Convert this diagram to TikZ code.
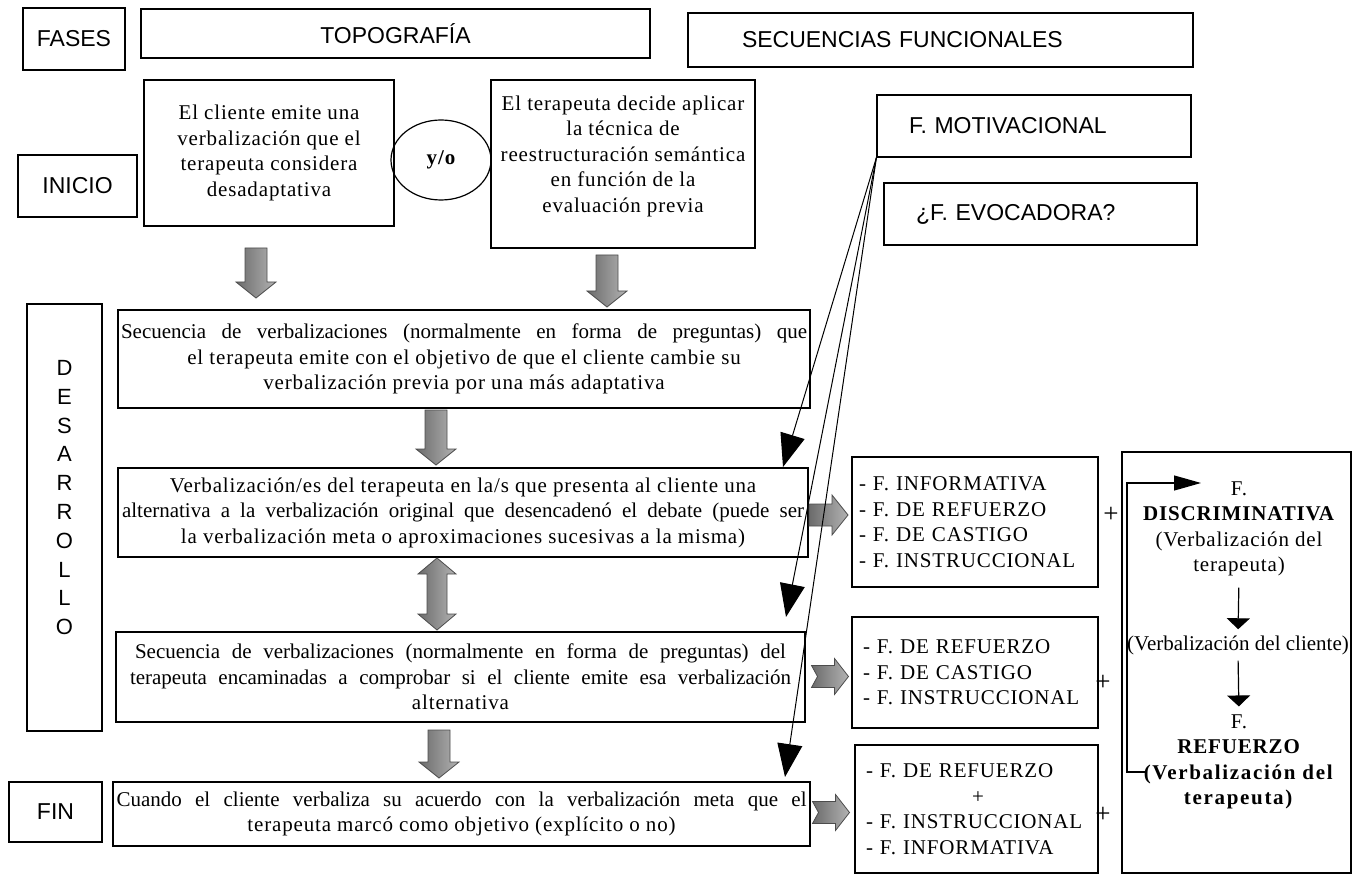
\documentclass[tikz,border=0pt]{standalone}
\usepackage{fontspec}
\setmainfont{Liberation Serif}[LetterSpace=4]
\newfontfamily\hdfont{Liberation Sans}
\usetikzlibrary{shapes.geometric,arrows.meta}

\newcommand{\txtsize}{\fontsize{21}{25.5}\selectfont}
\newcommand{\hdsize}{\fontsize{23}{26}\selectfont}
\newcommand{\spreadline}[2]{\makebox[#1][s]{\addfontfeature{LetterSpace=0}#2}}

\tikzset{
  hbox/.style={draw, line width=1.2pt, inner sep=0pt, font=\hdfont\hdsize},
  tbox/.style={draw, line width=1.2pt, inner sep=0pt, align=center, font=\txtsize},
  fbox/.style={draw, line width=1.2pt, inner ysep=0pt, inner xsep=7pt, align=left, text width=232pt, font=\txtsize},
  ttext/.style={inner sep=0pt, align=center, font=\txtsize},
  plus/.style={inner sep=0pt, font=\fontsize{27}{27}\selectfont},
  motarrow/.style={line width=1pt, -{Triangle[length=33pt,width=25pt]}},
  arrowfill/.style={draw=black!70, line width=0.8pt, left color=black!58, right color=black!30},
  blockarrow/.pic={\path[arrowfill] ({-#1/2},-11) -- ({#1/2-16},-11) -- ({#1/2-16},-20) -- ({#1/2},0) -- ({#1/2-16},20) -- ({#1/2-16},11) -- ({-#1/2},11) -- cycle;},
  dblarrow/.pic={\path[arrowfill] ({-#1/2},0) -- ({-#1/2+16},-19) -- ({-#1/2+16},-10) -- ({#1/2-16},-10) -- ({#1/2-16},-19) -- ({#1/2},0) -- ({#1/2-16},19) -- ({#1/2-16},10) -- ({-#1/2+16},10) -- ({-#1/2+16},19) -- cycle;},
  notcharrow/.pic={\path[arrowfill] (-18,-11) -- (5,-11) -- (5,-18) -- (19,0) -- (5,18) -- (5,11) -- (-18,11) -- (-12,0) -- cycle;}
}

\begin{document}
\begin{tikzpicture}[x=1pt,y=-1pt]
  \useasboundingbox (0,0) rectangle (1356,874);
  % headings
  \node[hbox, minimum width=102pt, minimum height=62pt] (fases) at (74,39) {FASES};
  \node[hbox, minimum width=509pt, minimum height=49pt] (topo) at (395.5,33.5) {TOPOGRAFÍA};
  \node[hbox, minimum height=54pt, text width=397pt, inner xsep=54pt, align=left] (secf) at (940.5,40) {SECUENCIAS FUNCIONALES};

  % phases
  \node[hbox, minimum width=119pt, minimum height=62pt] (inicio) at (77.5,186) {INICIO};
  \node[hbox, minimum width=75pt, minimum height=427pt, align=center, font=\hdfont\fontsize{22}{28.8}\selectfont] (desa) at (64.5,517.5) {D\\E\\S\\A\\R\\R\\O\\L\\L\\O\rule[-40pt]{0pt}{0pt}};
  \node[hbox, minimum width=93pt, minimum height=60pt] (fin) at (55.5,812) {FIN};

  % topography
  \node[tbox, minimum width=250pt, minimum height=146pt] (cliente) at (269,153) {El cliente emite una\\verbalización que el\\terapeuta considera\\desadaptativa};
  \node[draw, ellipse, line width=1.2pt, minimum width=100pt, minimum height=80pt, inner sep=0pt, font=\txtsize\bfseries] (yo) at (441,160) {y/o};
  \node[tbox, minimum width=264pt, minimum height=168pt] (terap) at (623,164) {El terapeuta decide aplicar\\la técnica de\\reestructuración semántica\\en función de la\\evaluación previa\rule[-20pt]{0pt}{0pt}};
  \node[tbox, minimum width=692pt, minimum height=98pt] (secq) at (464,359) {\spreadline{686pt}{Secuencia de verbalizaciones (normalmente en forma de preguntas) que}\\el terapeuta emite con el objetivo de que el cliente cambie su\\verbalización previa por una más adaptativa};
  \node[tbox, minimum width=690pt, minimum height=89pt] (alter) at (463,512.5) {Verbalización/es del terapeuta en la/s que presenta al cliente una\\\spreadline{682pt}{alternativa a la verbalización original que desencadenó el debate (puede ser}\\la verbalización meta o aproximaciones sucesivas a la misma)};
  \node[tbox, minimum width=689pt, minimum height=90pt] (secd) at (460.5,677) {\spreadline{651pt}{Secuencia de verbalizaciones (normalmente en forma de preguntas) del}\\\spreadline{661pt}{terapeuta encaminadas a comprobar si el cliente emite esa verbalización}\\alternativa};
  \node[tbox, minimum width=697pt, minimum height=64pt] (cuando) at (461.5,814) {\spreadline{690pt}{Cuando el cliente verbaliza su acuerdo con la verbalización meta que el}\\terapeuta marcó como objetivo (explícito o no)};

  % grey block arrows
  \pic[rotate=-90] at (256,273) {blockarrow=50};
  \pic[rotate=-90] at (607,281) {blockarrow=52};
  \pic[rotate=-90] at (436,437.5) {blockarrow=55};
  \pic[rotate=90] at (437,594) {dblarrow=72};
  \pic[rotate=-90] at (439,754) {blockarrow=48};
  \pic at (828.5,515) {blockarrow=39};
  \pic at (829.5,676.5) {notcharrow};
  \pic at (830.5,812.5) {notcharrow};

  % functional sequences
  \node[hbox, minimum height=62pt, text width=250pt, inner xsep=32pt, align=left] (motiv) at (1034,126) {F. MOTIVACIONAL};
  \node[hbox, minimum height=62pt, text width=249pt, inner xsep=32pt, align=left] (evoca) at (1040.5,214) {¿F. EVOCADORA?};
  \node[fbox, minimum height=130pt] (func1) at (975,522) {- F. INFORMATIVA\\- F. DE REFUERZO\\- F. DE CASTIGO\\- F. INSTRUCCIONAL};
  \node[fbox, minimum height=111pt, text width=224pt, inner xsep=11pt] (func2) at (975,672.5) {- F. DE REFUERZO\\- F. DE CASTIGO\\- F. INSTRUCCIONAL};
  \node[fbox, minimum height=128pt, text width=221pt, inner xsep=11pt] (func3) at (976.5,809) {- F. DE REFUERZO\\\hspace*{106pt}+\\- F. INSTRUCCIONAL\\- F. INFORMATIVA};
  \node[plus] (plus1) at (1111,515) {+};
  \node[plus] (plus2) at (1103,683) {+};
  \node[plus] (plus3) at (1103,815) {+};

  % motivational links
  \coordinate (tipA) at (783,467);
  \coordinate (tipB) at (786,617);
  \coordinate (tipC) at (785,777);
  \foreach \t in {tipA,tipB,tipC}
    \draw[motarrow] (motiv.south west) -- (\t);

  % chain
  \node[draw, line width=1.2pt, minimum width=229pt, minimum height=421pt, inner sep=0pt] (cadena) at (1236.5,662.5) {};
  \node[ttext] (fdis) at (1239,529) {F.\\\textbf{DISCRIMINATIVA}\\(Verbalización del\\terapeuta)};
  \node[ttext, font=\txtsize\addfontfeature{LetterSpace=0}] (vcli) at (1238,645) {(Verbalización del cliente)};
  \node[ttext] (fref) at (1239,762) {F.\\\textbf{REFUERZO}\\\textbf{\addfontfeature{LetterSpace=8}(Verbalización del}\\\textbf{\addfontfeature{LetterSpace=8}terapeuta)}};
  \draw[-{Triangle[length=11pt,width=23pt]}, line width=1.2pt, shorten <=11pt, shorten >=6pt] (fdis.south) -- (vcli.north);
  \draw[-{Triangle[length=11pt,width=23pt]}, line width=1.2pt, shorten <=6pt, shorten >=8pt] (vcli.south) -- (fref.north);
  \coordinate (loopout) at (1147,772);
  \coordinate (loopin) at (1201,483);
  \draw[-{Triangle[length=27pt,width=15pt]}, line width=1.2pt] (loopout) -- ++(-20,0) |- (loopin);
\end{tikzpicture}
\end{document}
